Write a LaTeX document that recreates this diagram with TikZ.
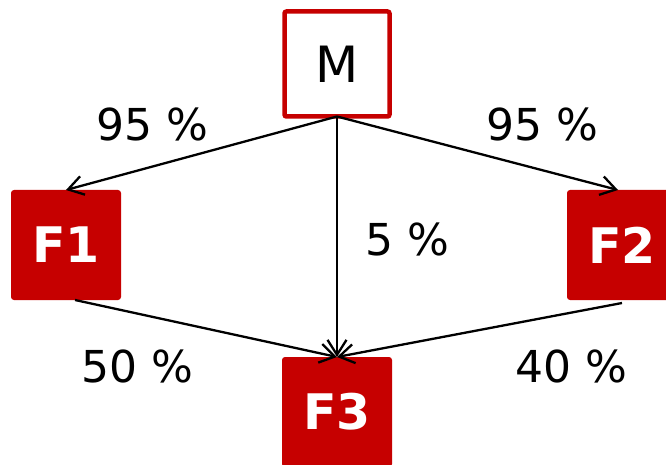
\documentclass[tikz,border=0pt]{standalone}
\usepackage{fontspec}
\setmainfont{DejaVu Sans}
\usetikzlibrary{arrows.meta}
\definecolor{boxred}{RGB}{198,0,0}
\begin{document}
\begin{tikzpicture}[x=1pt,y=-1pt,
  every node/.style={inner sep=0pt,outer sep=0pt},
  srcbox/.style={draw=boxred,line width=4.5pt,fill=white,rounded corners=2pt,
    minimum width=105pt,minimum height=105pt,font=\fontsize{50}{60}\selectfont},
  fbox/.style={fill=boxred,rounded corners=3pt,text=white,
    minimum width=110pt,minimum height=110pt,font=\fontsize{49}{59}\selectfont\bfseries},
  pct/.style={font=\fontsize{44}{53}\selectfont},
  flow/.style={line width=2.3pt,-{Straight Barb[length=15pt,width=19pt]}}]
\useasboundingbox (0,0) rectangle (666,465);
\node[srcbox] (M) at (337,64) {M};
\node[fbox] (F1) at (66,245) {F1};
\node[fbox] (F2) at (622,245) {F2};
\node[fbox] (F3) at (337,412) {F3};
\draw[flow] (M.south) -- (F1.north);
\draw[flow] (M.south) -- ([xshift=-4pt]F2.north);
\draw[flow] (M.south) -- (F3.north);
\draw[flow] ([xshift=9pt]F1.south) -- (F3.north);
\draw[flow] ([yshift=-3pt]F2.south) -- (F3.north);
\node[pct] (l1) at (152,124) {95 \%};
\node[pct] (l2) at (542,124) {95 \%};
\node[pct] (l3) at (407,239) {5 \%};
\node[pct] (l4) at (137.5,366) {50 \%};
\node[pct] (l5) at (571,366) {40 \%};
\end{tikzpicture}
\end{document}
